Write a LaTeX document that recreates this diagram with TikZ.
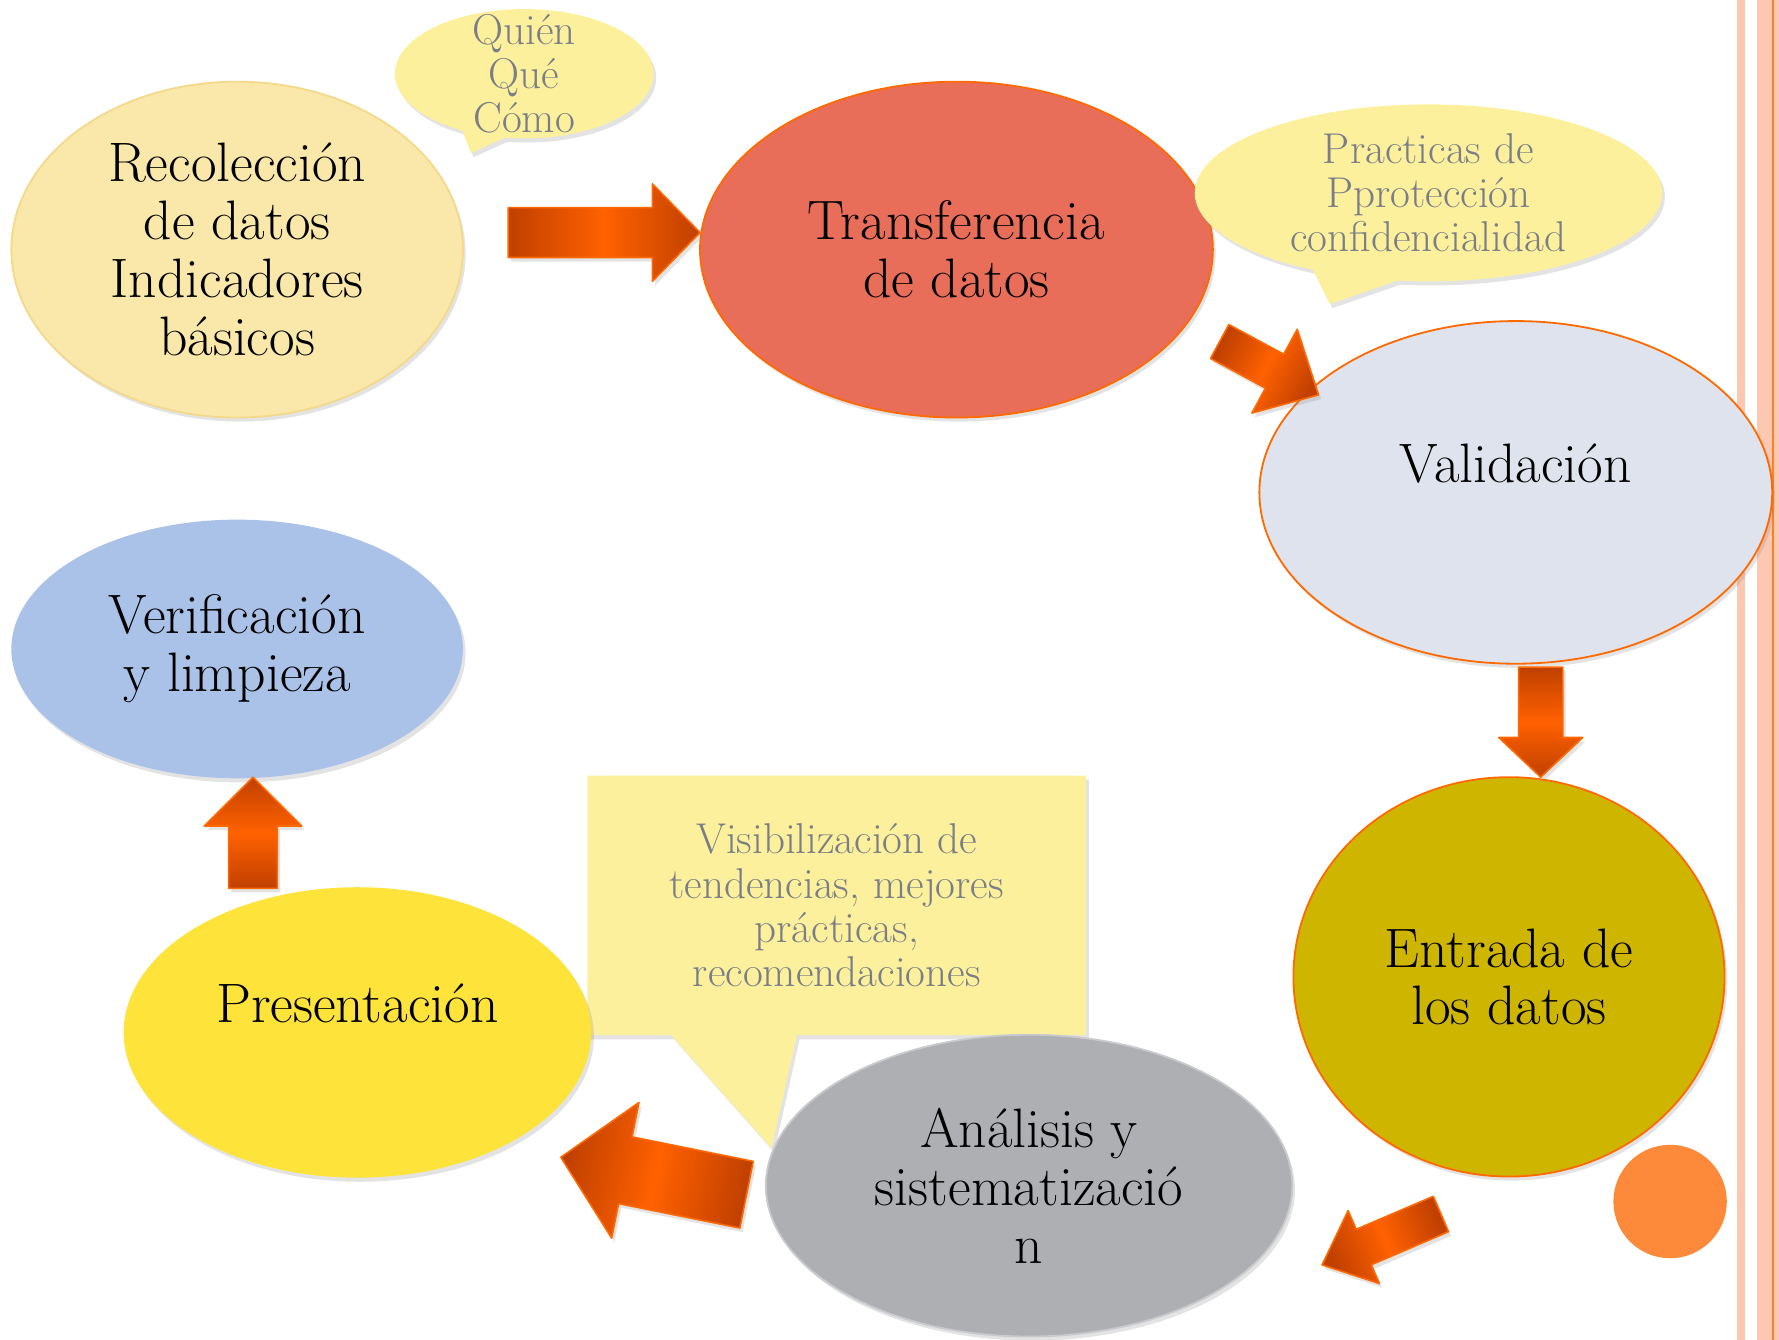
\documentclass[tikz,border=0pt]{standalone}
\usepackage{fontspec}
\usetikzlibrary{shapes.geometric,shapes.callouts,shadows,backgrounds}

\definecolor{recofill}{HTML}{F9E8A9}
\definecolor{recoline}{HTML}{F4D98B}
\definecolor{notefill}{HTML}{FDF09D}
\definecolor{notetext}{HTML}{7A7E86}
\definecolor{transfill}{HTML}{E96E5A}
\definecolor{validfill}{HTML}{DFE3EE}
\definecolor{entrafill}{HTML}{CDB500}
\definecolor{analfill}{HTML}{ADAFB3}
\definecolor{analline}{HTML}{C9CACD}
\definecolor{presfill}{HTML}{FDE33A}
\definecolor{verifill}{HTML}{ABC2E8}
\definecolor{edgeorange}{HTML}{FF6A00}
\definecolor{arrowdark}{HTML}{C04000}
\definecolor{arrowhot}{HTML}{FF6100}
\definecolor{dotorange}{HTML}{FD8A3A}
\definecolor{stripe}{HTML}{FDC8B2}
\definecolor{stripeline}{HTML}{FF7F2A}

\newcommand\stagefont{\fontsize{24.5}{25.5}\selectfont}
\newcommand\notefont{\fontsize{19}{19.5}\selectfont}

\tikzset{
  softshadow/.style={drop shadow={opacity=0.22, shadow xshift=1.2pt, shadow yshift=-1.8pt}},
  stage/.style={ellipse, inner sep=0pt, align=center, font=\stagefont, line width=0.8pt, softshadow},
  note/.style={inner sep=0pt, align=center, font=\notefont, text=notetext},
  arrowpaint/.style={draw=edgeorange, line width=0.7pt, left color=arrowdark,
    right color=arrowdark, middle color=arrowhot, softshadow},
  pics/fatarrow/.style n args={5}{code={
    \path[arrowpaint, shading angle={90+#5}, rotate=#5] (0,-#2) -- ({#1-#4},-#2)
      -- ({#1-#4},-#3) -- (#1,0) -- ({#1-#4},#3) -- ({#1-#4},#2) -- (0,#2) -- cycle;
  }},
}

\begin{document}
\begin{tikzpicture}[x=0.5pt, y=-0.5pt, line join=round]
  \useasboundingbox (0,0) rectangle (1568,1181);
  % side stripes
  \fill[stripe] (1531,0) rectangle (1538,1181);
  \fill[stripe] (1549,0) rectangle (1568,1181);
  \fill[stripeline] (1562,0) rectangle (1564,1181);
  \fill[dotorange] (1472,1059) circle (50);

  % stages of the cycle
  \node[stage, fill=recofill, draw=recoline, minimum width=199pt, minimum height=148pt]
    (reco) at (209,220) {Recolección\\de datos\\Indicadores\\básicos};
  \node[stage, fill=transfill, draw=edgeorange, minimum width=226pt, minimum height=148pt]
    (transf) at (843,220) {Transferencia\\de datos};
  \node[stage, fill=validfill, draw=edgeorange, minimum width=226pt, minimum height=151pt]
    (valid) at (1336,434) {Validación\\\mbox{}};
  \node[stage, fill=entrafill, draw=edgeorange, minimum width=190pt, minimum height=176pt]
    (entrada) at (1330,861) {Entrada de\\los datos};
  \node[note, minimum width=219.5pt, minimum height=114pt]
    (vis) at (737.5,798) {Visibilización de\\tendencias, mejores\\prácticas,\\recomendaciones};
  \node[stage, fill=analfill, draw=analline, minimum width=232pt, minimum height=133pt]
    (analisis) at (907,1045) {Análisis y\\sistematizació\\n};
  \node[stage, fill=presfill, minimum width=206pt, minimum height=128pt]
    (present) at (315,910) {Presentación\\\mbox{}};
  \node[stage, fill=verifill, minimum width=199pt, minimum height=114pt]
    (verif) at (209,572) {Verificación\\y limpieza};

  % callouts
  \node[note, ellipse callout, fill=notefill, softshadow, inner ysep=-9pt,
    minimum width=114pt, minimum height=57pt, callout pointer arc=20,
    callout absolute pointer={(415,135)}] (quien) at (462,65) {Quién\\Qué\\Cómo};
  \node[note, ellipse callout, fill=notefill, softshadow, inner ysep=-2pt,
    minimum width=206pt, minimum height=78pt, callout pointer arc=22,
    callout absolute pointer={(1172,268)}] (practicas) at (1259,170)
    {Practicas de\\Pprotección\\confidencialidad};
  \begin{scope}[on background layer]
    \fill[notefill, softshadow] (vis.north west) -- (vis.north east) -- (vis.south east)
      -- ([xshift=-127.5pt]vis.south east) -- (680,1012) -- ([xshift=37pt]vis.south west)
      -- (vis.south west) -- cycle;
  \end{scope}

  % block arrows
  \pic at (448,205) {fatarrow={169}{22}{43}{42}{0}};
  \pic at (1075,301) {fatarrow={99}{17}{42}{44}{-28.4}};
  \pic at (1358,588) {fatarrow={97}{19.5}{37}{35}{-90}};
  \pic at (1270,1070) {fatarrow={114}{17}{35}{40}{203.2}};
  \pic at (658,1053) {fatarrow={167}{30}{61}{58}{168.6}};
  \pic at (223,783) {fatarrow={98}{21.5}{43}{43}{90}};
\end{tikzpicture}
\end{document}
